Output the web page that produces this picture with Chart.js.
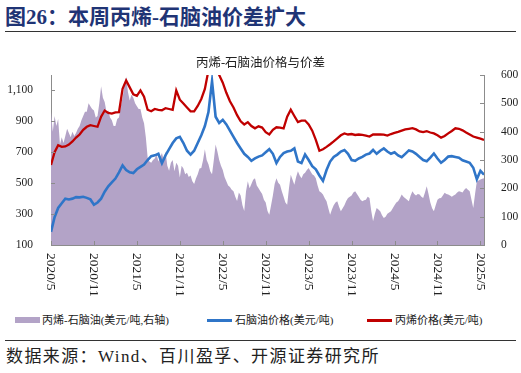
<!DOCTYPE html>
<html>
<head>
<meta charset="utf-8">
<script src="https://cdn.jsdelivr.net/npm/chart.js@4.4.1/dist/chart.umd.min.js"></script>
<style>
    body { margin: 0; width: 521px; height: 373px; background: #fff; position: relative; overflow: hidden;
        font-family: "Liberation Serif", "Noto Sans CJK SC", serif; }
    #titulo { position: absolute; left: 5px; top: 4px; font-size: 21px; font-weight: bold; color: #1F3475; white-space: nowrap; line-height: 26px; }
    .regua { position: absolute; left: 5px; width: 511px; height: 1px; background: #333; }
    #caixa-grafico { position: absolute; left: 0; top: 40px; width: 521px; height: 262px; }
    .leg { position: absolute; top: 312px; font-size: 11px; color: #222; white-space: nowrap; line-height: 16px; }
    .amostra { position: absolute; }
    #fonte { position: absolute; left: 6px; top: 347px; font-size: 17px; letter-spacing: 1.4px; color: #222; white-space: nowrap; line-height: 20px; }
</style>
</head>
<body>
<div id="titulo">图26：本周丙烯-石脑油价差扩大</div>
<div class="regua" style="top:31px"></div>
<div id="caixa-grafico"><canvas id="grafico-spread" width="521" height="262"></canvas></div>

<div class="amostra" style="left:15px;top:317px;width:25px;height:6px;background:rgb(179,163,199)"></div>
<div class="leg" style="left:42px">丙烯-石脑油(美元/吨,右轴)</div>
<div class="amostra" style="left:207px;top:319px;width:25px;height:2.5px;background:#2F75C8"></div>
<div class="leg" style="left:235px">石脑油价格(美元/吨)</div>
<div class="amostra" style="left:367px;top:319px;width:25px;height:2.5px;background:#C00000"></div>
<div class="leg" style="left:395px">丙烯价格(美元/吨)</div>

<div class="regua" style="top:340px"></div>
<div id="fonte">数据来源：Wind、百川盈孚、开源证券研究所</div>

<script>
// prices: semi-monthly points from 2020/5; spread: weekly points from 2020/5
const PASSO_PRECO = 0.5;
const PASSO_SPREAD = 0.25;
const ROTULOS_X = ['2020/5', '2020/11', '2021/5', '2021/11', '2022/5', '2022/11',
    '2023/5', '2023/11', '2024/5', '2024/11', '2025/5'];

const precoPropeno = [
    618, 700, 745, 735, 738, 750, 770, 795, 815, 845, 865, 875, 870, 865, 930, 970,
    955, 950, 958, 960, 1110, 1165, 1120, 1075, 1065, 1100, 1060, 975, 965, 980, 975, 972,
    985, 980, 975, 1100, 1040, 1015, 990, 965, 965, 1000, 1045, 1110, 1230, 1260, 1240, 1200,
    1150, 1085, 1030, 990, 940, 900, 880, 895, 870, 855, 868, 860, 830, 815, 845, 862,
    860, 855, 930, 975, 935, 895, 905, 905, 880, 840, 780, 710, 720, 735, 752, 770,
    790, 810, 822, 815, 818, 812, 815, 812, 808, 802, 815, 815, 816, 814, 808, 818,
    825, 832, 840, 848, 852, 856, 848, 835, 830, 836, 828, 822, 810, 795, 805, 822,
    838, 855, 852, 842, 828, 815, 802, 795, 788, 780,
];

const precoNafta = [
    185, 280, 340, 370, 400, 395, 400, 410, 408, 412, 405, 395, 360, 375, 400, 445,
    480, 505, 530, 570, 615, 585, 570, 565, 590, 605, 620, 650, 675, 680, 690, 630,
    680, 720, 760, 790, 800, 760, 710, 685, 710, 760, 810, 870, 960, 1160, 930, 890,
    910, 880, 840, 800, 760, 725, 690, 670, 645, 660, 672, 680, 700, 720, 690, 630,
    670, 695, 705, 710, 725, 640, 630, 685, 650, 610, 590, 550, 515, 585, 640, 670,
    685, 705, 715, 690, 650, 645, 660, 670, 685, 692, 715, 690, 710, 725, 705, 690,
    700, 680, 668, 690, 712, 705, 690, 670, 650, 642, 665, 692, 660, 632, 650, 672,
    675, 670, 665, 648, 640, 632, 600, 525, 580, 555,
];

const spreadPropenoNafta = [
    470, 400, 455, 420, 445, 355, 380, 360, 385, 410, 395, 380, 400, 385, 395, 410,
    420, 440, 455, 470, 470, 500, 490, 480, 475, 450, 455, 500, 560, 520, 505, 470,
    475, 450, 440, 420, 420, 445, 450, 490, 520, 560, 595, 540, 510, 530, 520, 500,
    490, 480, 480, 450, 430, 380, 310, 295, 290, 300, 305, 320, 295, 310, 325, 300,
    330, 280, 262, 290, 300, 260, 290, 280, 238, 280, 270, 250, 255, 240, 245, 225,
    215, 235, 250, 270, 272, 300, 338, 300, 285, 260, 250, 300, 355, 330, 300, 280,
    265, 240, 225, 210, 205, 195, 190, 170, 155, 185, 175, 140, 120, 190, 225, 200,
    215, 230, 236, 210, 200, 190, 180, 160, 150, 120, 107, 140, 175, 215, 236, 220,
    213, 190, 170, 150, 142, 200, 248, 230, 213, 240, 260, 245, 236, 250, 255, 265,
    272, 260, 250, 245, 236, 210, 190, 185, 178, 165, 154, 130, 107, 125, 140, 150,
    154, 135, 119, 130, 140, 155, 166, 170, 175, 185, 190, 180, 170, 160, 154, 158,
    160, 170, 166, 120, 84, 110, 131, 125, 119, 105, 95, 100, 110, 115, 119, 130,
    140, 150, 154, 165, 178, 170, 165, 160, 154, 175, 190, 180, 175, 180, 178, 170,
    166, 185, 207, 180, 150, 130, 119, 140, 160, 165, 166, 175, 184, 180, 178, 175,
    170, 175, 178, 185, 190, 188, 185, 195, 201, 195, 190, 160, 131, 180, 225, 228,
    231, 234, 236,
];

const TICKS_ESQ = [100, 300, 500, 700, 900, 1100];
const TICKS_DIR = [0, 100, 200, 300, 400, 500, 600];

const paraPontos = (serie, passo) => serie.map((v, i) => ({ x: i * passo, y: v }));

const FAMILIA = '"Liberation Serif", "Noto Sans CJK SC", serif';
const FONTE_EIXO = { family: FAMILIA, size: 11.5 };
const COR_EIXO = '#8c8c8c';
const COR_SPREAD = 'rgb(179,163,199)';

// x labels read top-to-bottom and ticks point inward, so they are drawn here
const eixosManuais = {
    id: 'eixosManuais',
    afterDraw(chart) {
        const ctx = chart.ctx;
        const area = chart.chartArea;
        const sx = chart.scales.x;
        const sy = chart.scales.y;
        const sy2 = chart.scales.y2;
        ctx.save();
        ctx.strokeStyle = COR_EIXO;
        ctx.lineWidth = 1;
        ctx.beginPath();
        ROTULOS_X.forEach((_, i) => {
            const px = Math.round(sx.getPixelForValue(i * 6)) + 0.5;
            ctx.moveTo(px, area.bottom);
            ctx.lineTo(px, area.bottom - 4);
        });
        TICKS_ESQ.forEach((v) => {
            const py = Math.round(sy.getPixelForValue(v)) + 0.5;
            ctx.moveTo(area.left, py);
            ctx.lineTo(area.left + 4, py);
        });
        TICKS_DIR.forEach((v) => {
            const py = Math.round(sy2.getPixelForValue(v)) + 0.5;
            ctx.moveTo(area.right, py);
            ctx.lineTo(area.right - 4, py);
        });
        ctx.stroke();

        ctx.fillStyle = '#222';
        ctx.font = '13.5px ' + FAMILIA;
        ctx.textAlign = 'left';
        ctx.textBaseline = 'middle';
        ROTULOS_X.forEach((rotulo, i) => {
            const px = sx.getPixelForValue(i * 6);
            ctx.save();
            ctx.translate(px, area.bottom + 8);
            ctx.rotate(Math.PI / 2);
            ctx.fillText(rotulo, 0, 0);
            ctx.restore();
        });
        ctx.restore();
    },
};

new Chart(document.getElementById('grafico-spread'), {
    type: 'line',
    data: {
        datasets: [
            {
                label: '丙烯价格(美元/吨)',
                data: paraPontos(precoPropeno, PASSO_PRECO),
                borderColor: '#C00000',
                borderWidth: 2.3,
                pointRadius: 0,
                tension: 0,
                yAxisID: 'y',
                order: 1,
            },
            {
                label: '石脑油价格(美元/吨)',
                data: paraPontos(precoNafta, PASSO_PRECO),
                borderColor: '#2F75C8',
                borderWidth: 2.6,
                pointRadius: 0,
                tension: 0,
                yAxisID: 'y',
                order: 2,
            },
            {
                label: '丙烯-石脑油(美元/吨,右轴)',
                data: paraPontos(spreadPropenoNafta, PASSO_SPREAD),
                borderColor: COR_SPREAD,
                backgroundColor: COR_SPREAD,
                borderWidth: 0,
                pointRadius: 0,
                fill: 'start',
                tension: 0,
                yAxisID: 'y2',
                order: 3,
            },
        ],
    },
    options: {
        responsive: false,
        animation: false,
        layout: { padding: 0 },
        plugins: {
            legend: { display: false },
            tooltip: { enabled: false },
            title: {
                display: true,
                text: '丙烯-石脑油价格与价差',
                color: '#222',
                font: { family: FAMILIA, size: 12.5, weight: 'normal', lineHeight: 1.2 },
                padding: { top: 16, bottom: 4 },
            },
        },
        scales: {
            x: {
                type: 'linear',
                min: 0,
                max: 60.5,
                grid: { display: false },
                border: { display: true, color: COR_EIXO },
                ticks: { display: false },
                afterFit: (escala) => { escala.height = 57; },
            },
            y: {
                position: 'left',
                min: 100,
                max: 1200,
                grid: { display: false },
                border: { display: true, color: COR_EIXO },
                afterBuildTicks: (escala) => { escala.ticks = TICKS_ESQ.map((v) => ({ value: v })); },
                afterFit: (escala) => { escala.width = 51; },
                ticks: {
                    color: '#222',
                    font: FONTE_EIXO,
                    padding: 10,
                    callback: (v) => v.toLocaleString('en-US'),
                },
            },
            y2: {
                position: 'right',
                min: 0,
                max: 600,
                grid: { display: false },
                border: { display: true, color: COR_EIXO },
                afterBuildTicks: (escala) => { escala.ticks = TICKS_DIR.map((v) => ({ value: v })); },
                afterFit: (escala) => { escala.width = 37; },
                ticks: { color: '#222', font: FONTE_EIXO, padding: 9 },
            },
        },
    },
    plugins: [eixosManuais],
});
</script>
</body>
</html>
